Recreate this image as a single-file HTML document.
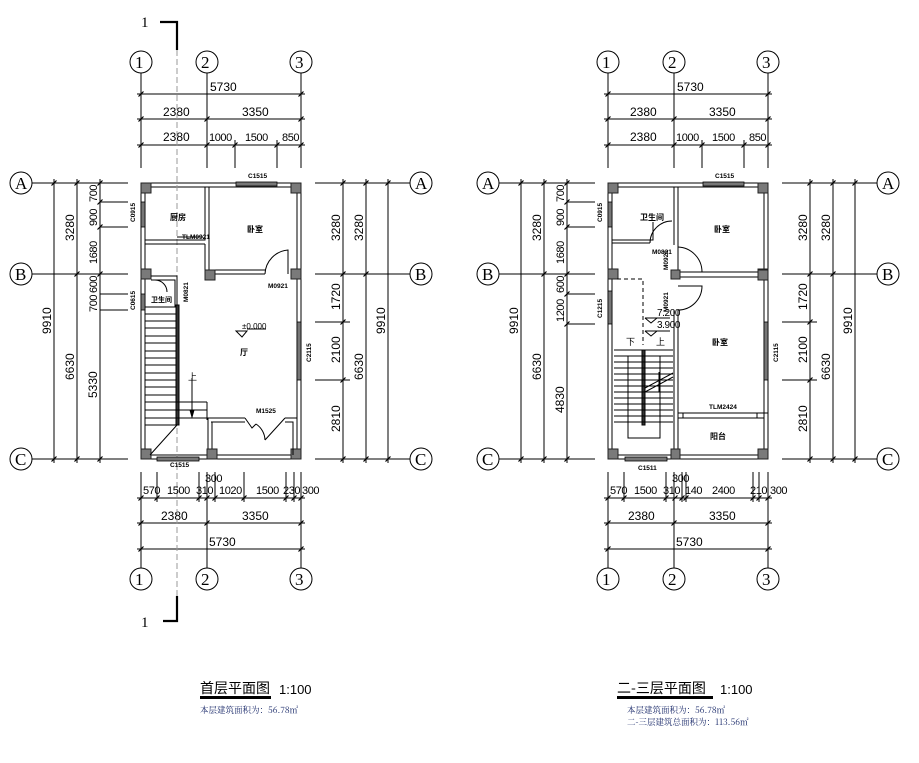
<!DOCTYPE html>
<html><head><meta charset="utf-8"><style>
html,body{margin:0;padding:0;background:#fff}
svg{display:block}
text{font-family:"Liberation Sans Narrow","Liberation Sans","Noto Sans CJK SC",sans-serif;fill:#000}
.n{font-size:12px}
.m{font-size:11px;letter-spacing:-0.4px}
.s{font-size:6.5px;font-weight:bold}
.ax{font-family:"Liberation Serif",serif;font-size:17px}
.ln{stroke:#000;stroke-width:1;fill:none}
.w{stroke:#000;stroke-width:1;fill:none}
.col{fill:#7a7a7a;stroke:#222;stroke-width:1}
.win{fill:#777;stroke:#000;stroke-width:.8}
.tk{stroke:#000;stroke-width:1.2}
</style></head><body>
<svg width="919" height="763" viewBox="0 0 919 763" xmlns="http://www.w3.org/2000/svg">
<defs>
<path id="t" d="M-2.5,2.5 L2.5,-2.5" class="tk"/>
<g id="common">
 <g class="ln">
  <circle cx="141" cy="62" r="11"/><circle cx="207" cy="62" r="11"/><circle cx="301" cy="62" r="11"/>
  <line x1="141" y1="73" x2="141" y2="168"/><line x1="207" y1="73" x2="207" y2="168"/><line x1="301" y1="73" x2="301" y2="168"/>
  <line x1="235" y1="140" x2="235" y2="168"/><line x1="277" y1="140" x2="277" y2="168"/>
  <line x1="137" y1="94" x2="305" y2="94"/><line x1="137" y1="119" x2="305" y2="119"/><line x1="137" y1="145" x2="305" y2="145"/>
 </g>
 <text class="ax" x="135" y="68">1</text><text class="ax" x="201" y="68">2</text><text class="ax" x="295" y="68">3</text>
 <use href="#t" x="141" y="94"/><use href="#t" x="301" y="94"/>
 <use href="#t" x="141" y="119"/><use href="#t" x="207" y="119"/><use href="#t" x="301" y="119"/>
 <use href="#t" x="141" y="145"/><use href="#t" x="207" y="145"/><use href="#t" x="235" y="145"/><use href="#t" x="277" y="145"/><use href="#t" x="301" y="145"/>
 <text class="n" x="210" y="91">5730</text>
 <text class="n" x="163" y="116">2380</text><text class="n" x="242" y="116">3350</text>
 <text class="n" x="163" y="141">2380</text><text class="m" x="209" y="141">1000</text><text class="m" x="245" y="141">1500</text><text class="m" x="282" y="141">850</text>
 <g class="ln">
  <circle cx="21" cy="183" r="11"/><circle cx="21" cy="274" r="11"/><circle cx="21" cy="459" r="11"/>
  <line x1="32" y1="183" x2="128" y2="183"/><line x1="32" y1="274" x2="128" y2="274"/><line x1="32" y1="459" x2="128" y2="459"/>
  <line x1="54" y1="179" x2="54" y2="463"/><line x1="77" y1="179" x2="77" y2="463"/><line x1="100" y1="179" x2="100" y2="463"/>
  <line x1="100" y1="202" x2="128" y2="202"/><line x1="100" y1="227" x2="128" y2="227"/>
 </g>
 <text class="ax" x="15" y="189">A</text><text class="ax" x="15" y="280">B</text><text class="ax" x="15" y="465">C</text>
 <use href="#t" x="54" y="183"/><use href="#t" x="54" y="459"/>
 <use href="#t" x="77" y="183"/><use href="#t" x="77" y="274"/><use href="#t" x="77" y="459"/>
 <use href="#t" x="100" y="183"/><use href="#t" x="100" y="202"/><use href="#t" x="100" y="227"/><use href="#t" x="100" y="274"/><use href="#t" x="100" y="459"/>
 <text class="n" transform="translate(51,334) rotate(-90)">9910</text>
 <text class="n" transform="translate(74,241) rotate(-90)">3280</text>
 <text class="n" transform="translate(74,380) rotate(-90)">6630</text>
 <text class="m" transform="translate(97,202) rotate(-90)">700</text>
 <text class="m" transform="translate(97,226) rotate(-90)">900</text>
 <text class="m" transform="translate(97,264) rotate(-90)">1680</text>
 <g class="ln">
  <circle cx="421" cy="183" r="11"/><circle cx="421" cy="274" r="11"/><circle cx="421" cy="459" r="11"/>
  <line x1="315" y1="183" x2="410" y2="183"/><line x1="315" y1="274" x2="410" y2="274"/><line x1="315" y1="459" x2="410" y2="459"/>
  <line x1="315" y1="322" x2="350" y2="322"/><line x1="315" y1="380" x2="350" y2="380"/>
  <line x1="343" y1="179" x2="343" y2="463"/><line x1="366" y1="179" x2="366" y2="463"/><line x1="388" y1="179" x2="388" y2="463"/>
 </g>
 <text class="ax" x="415" y="189">A</text><text class="ax" x="415" y="280">B</text><text class="ax" x="415" y="465">C</text>
 <use href="#t" x="343" y="183"/><use href="#t" x="343" y="274"/><use href="#t" x="343" y="322"/><use href="#t" x="343" y="380"/><use href="#t" x="343" y="459"/>
 <use href="#t" x="366" y="183"/><use href="#t" x="366" y="274"/><use href="#t" x="366" y="459"/>
 <use href="#t" x="388" y="183"/><use href="#t" x="388" y="459"/>
 <text class="n" transform="translate(340,241) rotate(-90)">3280</text>
 <text class="n" transform="translate(340,310) rotate(-90)">1720</text>
 <text class="n" transform="translate(340,363) rotate(-90)">2100</text>
 <text class="n" transform="translate(340,432) rotate(-90)">2810</text>
 <text class="n" transform="translate(363,241) rotate(-90)">3280</text>
 <text class="n" transform="translate(363,380) rotate(-90)">6630</text>
 <text class="n" transform="translate(385,334) rotate(-90)">9910</text>
 <g class="ln">
  <circle cx="141" cy="579" r="11"/><circle cx="207" cy="579" r="11"/><circle cx="301" cy="579" r="11"/>
  <line x1="141" y1="472" x2="141" y2="568"/><line x1="207" y1="472" x2="207" y2="568"/><line x1="301" y1="472" x2="301" y2="568"/>
  <line x1="137" y1="498" x2="305" y2="498"/><line x1="137" y1="523" x2="305" y2="523"/><line x1="137" y1="549" x2="305" y2="549"/>
 </g>
 <text class="ax" x="135" y="585">1</text><text class="ax" x="201" y="585">2</text><text class="ax" x="295" y="585">3</text>
 <use href="#t" x="141" y="523"/><use href="#t" x="207" y="523"/><use href="#t" x="301" y="523"/>
 <use href="#t" x="141" y="549"/><use href="#t" x="301" y="549"/>
 <text class="n" x="161" y="520">2380</text><text class="n" x="242" y="520">3350</text>
 <text class="n" x="209" y="546">5730</text>
 <rect x="141" y="183" width="160" height="276" class="w"/>
 <rect x="145" y="187" width="152" height="268" class="w"/>
 <rect x="141" y="183" width="10" height="10" class="col"/><rect x="291" y="183" width="10" height="10" class="col"/>
 <rect x="141" y="269" width="10" height="10" class="col"/><rect x="291" y="269" width="10" height="10" class="col"/>
 <rect x="141" y="449" width="10" height="10" class="col"/><rect x="291" y="449" width="10" height="10" class="col"/>
 <rect x="236" y="182" width="41" height="4" class="win"/><text class="s" x="248" y="178">C1515</text>
 <rect x="297" y="322" width="4" height="58" class="win"/><text class="s" transform="translate(311,362) rotate(-90)">C2115</text>
</g>
</defs>

<use href="#common"/>
<use href="#common" x="467"/>

<line x1="177" y1="50" x2="177" y2="596" stroke="#999" stroke-dasharray="6,3"/>
<path d="M160,22 H177 V50" stroke="#000" stroke-width="2.2" fill="none"/>
<path d="M177,596 V621 H163" stroke="#000" stroke-width="2.2" fill="none"/>
<text class="ax" x="141" y="27" style="font-size:15px">1</text>
<text class="ax" x="141" y="627" style="font-size:15px">1</text>

<!-- LEFT PLAN -->
<g class="ln">
 <line x1="100" y1="294" x2="128" y2="294"/><line x1="100" y1="310" x2="128" y2="310"/>
 <line x1="157" y1="472" x2="157" y2="502"/><line x1="199" y1="472" x2="199" y2="502"/><line x1="215" y1="472" x2="215" y2="502"/>
 <line x1="244" y1="472" x2="244" y2="502"/><line x1="286" y1="472" x2="286" y2="502"/><line x1="294" y1="472" x2="294" y2="502"/>
 <path d="M145,240 H205 V187 M145,244 H205 M209,187 V270 H265 M205,244 V270 M209,274 H265"/>
 <rect x="205" y="270" width="10" height="10" class="col"/>
 <path d="M265,274 A25,25 0 0 1 288,250 L288,274"/>
 <path d="M177,237 H203 M180,240 H203"/>
 <path d="M151,276 H177 V307 M151,280 H175 V307"/>
 <path d="M155,280 A12,12 0 0 1 167,292"/>
 <rect x="176" y="305" width="3" height="120" fill="#333"/>
 <path d="M145,307 H176 M145,314 H176 M145,321 H176 M145,328 H176 M145,336 H176 M145,343 H176 M145,351 H176 M145,358 H176 M145,365 H176 M145,373 H176 M145,380 H176 M145,387 H176 M145,395 H176 M145,402 H207 M145,410 H207 M145,418 H207 M145,425 H177"/>
 <path d="M207,402 V420 M177,425 L150,455"/>
 <path d="M192,378 V416"/><path d="M190,410 L192,417 L194,410" fill="#000"/>
 <path d="M207,418 H245 M211,422 H245 M208,418 V455 M212,422 V455 M285,418 H297 M285,422 H293 V455"/>
 <rect x="207" y="449" width="10" height="10" class="col"/>
 <path d="M245,418 L252,428 L256,424 M285,418 L265,440 M256,424 A20,20 0 0 1 265,440"/>
 <path d="M236,331 L247,331 L242,337 Z M247,329 H266"/>
</g>
<rect x="141" y="202" width="4" height="25" class="win"/>
<rect x="141" y="294" width="4" height="16" class="win"/>
<rect x="157" y="457" width="42" height="4" class="win"/>
<use href="#t" x="157" y="498"/><use href="#t" x="199" y="498"/><use href="#t" x="207" y="498"/><use href="#t" x="215" y="498"/><use href="#t" x="244" y="498"/><use href="#t" x="286" y="498"/><use href="#t" x="294" y="498"/><use href="#t" x="141" y="498"/><use href="#t" x="301" y="498"/>
<text class="m" transform="translate(97,293) rotate(-90)">600</text>
<text class="m" transform="translate(97,312) rotate(-90)">700</text>
<text class="n" transform="translate(97,398) rotate(-90)">5330</text>
<text class="m" x="143" y="494">570</text><text class="m" x="167" y="494">1500</text><text class="m" x="196" y="494">310</text><text class="m" x="219" y="494">1020</text><text class="m" x="256" y="494">1500</text><text class="m" x="283" y="494">230</text><text class="m" x="302" y="494">300</text>
<text class="m" x="205" y="482">300</text>
<text class="s" x="170" y="220" style="font-size:8px">厨房</text>
<text class="s" x="182" y="239">TLM0921</text>
<text class="s" x="247" y="232" style="font-size:8px">卧室</text>
<text class="s" x="268" y="288">M0921</text>
<text class="s" x="151" y="302" style="font-size:7px">卫生间</text>
<text class="s" transform="translate(188,302) rotate(-90)">M0821</text>
<text class="s" transform="translate(135,222) rotate(-90)">C0915</text>
<text class="s" transform="translate(135,310) rotate(-90)">C0615</text>
<text class="s" x="242" y="329" style="font-size:8px;font-weight:normal">±0.000</text>
<text class="s" x="240" y="355" style="font-size:8px">厅</text>
<text class="s" x="188" y="380" style="font-size:9px;font-weight:normal">上</text>
<text class="s" x="256" y="413">M1525</text>
<text class="s" x="170" y="467">C1515</text>

<!-- RIGHT PLAN -->
<g class="ln">
 <line x1="567" y1="294" x2="595" y2="294"/><line x1="567" y1="324" x2="595" y2="324"/>
 <line x1="624" y1="472" x2="624" y2="502"/><line x1="666" y1="472" x2="666" y2="502"/><line x1="682" y1="472" x2="682" y2="502"/>
 <line x1="686" y1="472" x2="686" y2="502"/><line x1="753" y1="472" x2="753" y2="502"/><line x1="759" y1="472" x2="759" y2="502"/>
 <path d="M612,243 H650 M612,240 H650 M674,187 V245 M678,187 V272 H764 M678,277 H764 M674,310 V459 M678,310 V459 M653,222 V240 H650"/>
 <path d="M650,243 A22,22 0 0 1 672,221"/>
 <path d="M678,247 A25,25 0 0 1 702,272 H678"/>
 <path d="M678,286 H702 A24,24 0 0 1 678,310"/>
 <rect x="671" y="270" width="9" height="9" class="col"/><rect x="758" y="270" width="10" height="10" class="col"/>
 <path d="M617,279 H643 V345" stroke-dasharray="4,3"/>
 <path d="M645,318 H670 M645,331 H670 M645,318 L651,323 L657,318 M645,331 L651,336 L657,331"/>
 <rect x="642" y="350" width="3" height="75" fill="#333"/>
 <path d="M614,350 H673 M614,356 H673 M614,362 H673 M614,368 H673 M614,374 H673 M614,380 H673 M614,386 H673 M614,392 H673 M614,398 H673 M614,404 H673 M614,410 H673 M614,416 H673 M614,422 H673"/>
 <path d="M628,356 V438 H660 V356"/>
 <path d="M645,388 L673,373 M645,392 L673,377 M659,372 V392"/>
 <path d="M678,413 H768 M678,418 H764 M683,413 V418 M757,413 V418"/>
 <rect x="671" y="449" width="9" height="10" class="col"/>
</g>
<rect x="608" y="202" width="4" height="25" class="win"/>
<rect x="608" y="291" width="4" height="33" class="win"/>
<rect x="625" y="457" width="42" height="4" class="win"/>
<use href="#t" x="567" y="294"/><use href="#t" x="567" y="324"/>
<use href="#t" x="608" y="498"/><use href="#t" x="624" y="498"/><use href="#t" x="666" y="498"/><use href="#t" x="675" y="498"/><use href="#t" x="682" y="498"/><use href="#t" x="686" y="498"/><use href="#t" x="753" y="498"/><use href="#t" x="759" y="498"/><use href="#t" x="768" y="498"/>
<text class="m" transform="translate(564,293) rotate(-90)">600</text>
<text class="m" transform="translate(564,322) rotate(-90)">1200</text>
<text class="n" transform="translate(564,413) rotate(-90)">4830</text>
<text class="m" x="610" y="494">570</text><text class="m" x="634" y="494">1500</text><text class="m" x="663" y="494">310</text><text class="m" x="685" y="494">140</text><text class="m" x="712" y="494">2400</text><text class="m" x="750" y="494">210</text><text class="m" x="770" y="494">300</text>
<text class="m" x="672" y="482">300</text>
<text class="s" x="640" y="220" style="font-size:8px">卫生间</text>
<text class="s" x="714" y="232" style="font-size:8px">卧室</text>
<text class="s" x="652" y="254">M0821</text>
<text class="s" transform="translate(668,270) rotate(-90)">M0921</text>
<text class="s" transform="translate(668,312) rotate(-90)">M0921</text>
<text class="s" transform="translate(602,222) rotate(-90)">C0915</text>
<text class="s" transform="translate(602,318) rotate(-90)">C1215</text>
<text class="m" x="657" y="316" style="font-size:10px">7.200</text>
<text class="m" x="657" y="328" style="font-size:10px">3.900</text>
<text class="s" x="626" y="345" style="font-size:9px;font-weight:normal">下</text>
<text class="s" x="656" y="345" style="font-size:9px;font-weight:normal">上</text>
<text class="s" x="712" y="345" style="font-size:8px">卧室</text>
<text class="s" x="709" y="409">TLM2424</text>
<text class="s" x="710" y="439" style="font-size:8px">阳台</text>
<text class="s" x="638" y="470">C1511</text>

<!-- titles -->
<text x="200" y="693" style="font-size:14px;font-family:'Noto Sans CJK SC',sans-serif">首层平面图</text>
<rect x="200" y="696" width="71" height="3" fill="#000"/>
<text x="279" y="694" style="font-size:13px">1:100</text>
<text x="200" y="713" style="font-size:8.5px;fill:#1a2a6a;font-family:'Noto Serif CJK SC',serif">本层建筑面积为：56.78㎡</text>
<text x="617" y="693" style="font-size:14px;font-family:'Noto Sans CJK SC',sans-serif">二-三层平面图</text>
<rect x="617" y="696" width="96" height="3" fill="#000"/>
<text x="720" y="694" style="font-size:13px">1:100</text>
<text x="627" y="713" style="font-size:8.5px;fill:#1a2a6a;font-family:'Noto Serif CJK SC',serif">本层建筑面积为：56.78㎡</text>
<text x="627" y="725" style="font-size:8.5px;fill:#1a2a6a;font-family:'Noto Serif CJK SC',serif">二-三层建筑总面积为：113.56㎡</text>
</svg>
</body></html>
